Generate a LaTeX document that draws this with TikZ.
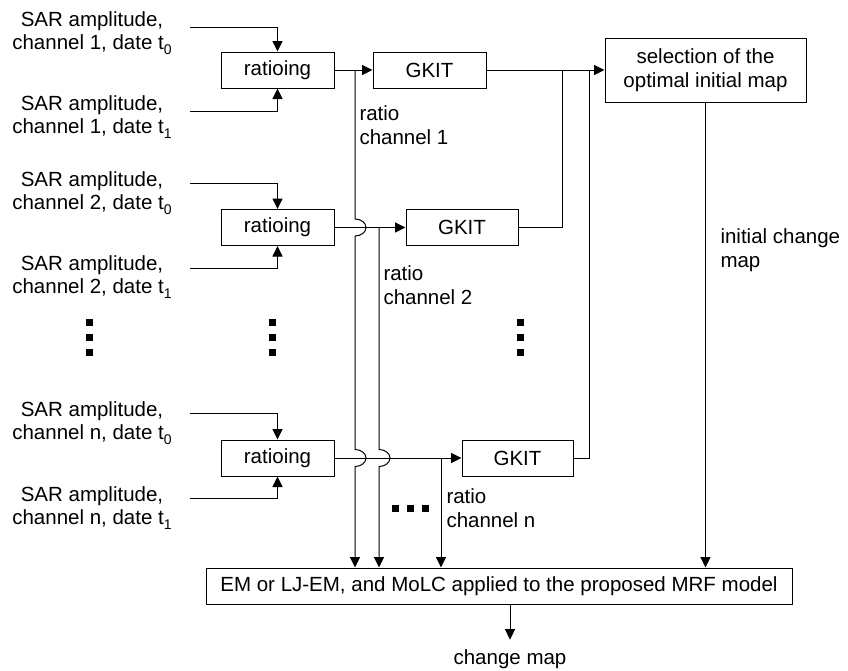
\documentclass[tikz,border=0pt]{standalone}
\usepackage{fontspec}
\setmainfont{Liberation Sans}
\usetikzlibrary{arrows.meta}

\newcommand{\datesub}[1]{\raisebox{-4.5pt}{\fontsize{14}{14}\selectfont #1}}

\begin{document}
\begin{tikzpicture}[x=1pt,y=-1pt,line width=1pt,
  every node/.style={font=\fontsize{20.5}{23.5}\selectfont},
  box/.style={draw,fill=white,minimum height=36pt,inner sep=0pt},
  lbl/.style={align=center,inner sep=0pt},
  note/.style={align=left,inner sep=0pt,anchor=west},
  arr/.style={-{Triangle[length=10.5pt,width=10pt]}},
  hop/.style={start angle=90,end angle=-90,x radius=11pt,y radius=8.5pt}
]
\useasboundingbox (0,0) rectangle (848,670);

% processing boxes
\node[box,minimum width=113pt] (r1) at (277.5,70)  {ratioing};
\node[box,minimum width=113pt] (r2) at (277.5,227.5) {ratioing};
\node[box,minimum width=113pt] (rn) at (277.5,458) {ratioing};
\node[box,minimum width=113pt] (g1) at (429.5,70)  {GKIT};
\node[box,minimum width=112pt] (g2) at (462,227.5) {GKIT};
\node[box,minimum width=111pt] (gn) at (517.5,458) {GKIT};
\node[box,lbl,minimum width=201pt,minimum height=64pt] (sel) at (705.5,70)
  {selection of the\\optimal initial map};
\node[box,minimum width=586pt] (bot) at (499,586)
  {EM or LJ-EM, and MoLC applied to the proposed MRF model};
\node[anchor=base,inner sep=0pt] (cm) at (510,664) {change map};

% input images
\node[lbl] (a1) at (92,33)  {SAR amplitude,\\channel 1, date t\datesub{0}};
\node[lbl] (b1) at (92,117) {SAR amplitude,\\channel 1, date t\datesub{1}};
\node[lbl] (a2) at (92,193) {SAR amplitude,\\channel 2, date t\datesub{0}};
\node[lbl] (b2) at (92,277) {SAR amplitude,\\channel 2, date t\datesub{1}};
\node[lbl] (an) at (92,423) {SAR amplitude,\\channel n, date t\datesub{0}};
\node[lbl] (bn) at (92,508) {SAR amplitude,\\channel n, date t\datesub{1}};

\coordinate (ia1) at (190,27);
\coordinate (ib1) at (190,111);
\coordinate (ia2) at (190,183);
\coordinate (ib2) at (190,268);
\coordinate (ian) at (190,413);
\coordinate (ibn) at (190,498);
\draw[arr] (ia1) -| (r1.north);
\draw[arr] (ib1) -| (r1.south);
\draw[arr] (ia2) -| (r2.north);
\draw[arr] (ib2) -| (r2.south);
\draw[arr] (ian) -| (rn.north);
\draw[arr] (ibn) -| (rn.south);

% ratio images to the classifiers
\draw[arr] (r1) -- (g1);
\draw[arr] (r2) -- (g2);
\draw[arr] (rn) -- (gn);

% classifier outputs to the selection stage
\coordinate (j2) at (562,70);
\coordinate (jn) at (589,70);
\draw[arr] (g1) -- (sel);
\draw (g2.east) -| (j2);
\draw (gn.east) -| (jn);

% ratio images down to the final stage, hopping over the crossings
\coordinate (t1) at (355,70);
\coordinate (t2) at (379,227.5);
\coordinate (tn) at (441,458);
\draw[arr] (t1) -- (355,219) arc[hop] -- (355,449.5) arc[hop] -- (t1 |- bot.north);
\draw[arr] (t2) -- (379,449.5) arc[hop] -- (t2 |- bot.north);
\draw[arr] (tn) -- (tn |- bot.north);

\draw[arr] (sel.south) -- (sel.south |- bot.north);
\draw[arr,shorten >=9pt] (bot.south -| cm) -- (cm.north);

% edge labels
\node[note] (l1) at (359,125) {ratio\\channel 1};
\node[note] (l2) at (383,285) {ratio\\channel 2};
\node[note] (ln) at (446,508) {ratio\\channel n};
\node[note] (li) at (720,250) {initial change\\map};

% ellipsis marks
\foreach \x in {89.5,272.5,520.5}
  \foreach \y in {322.5,337.5,352.5}
    \fill (\x-3.5,\y-3.5) rectangle (\x+3.5,\y+3.5);
\foreach \x in {395.5,410.5,425.5}
  \fill (\x-3.5,505) rectangle (\x+3.5,512);
\end{tikzpicture}
\end{document}
